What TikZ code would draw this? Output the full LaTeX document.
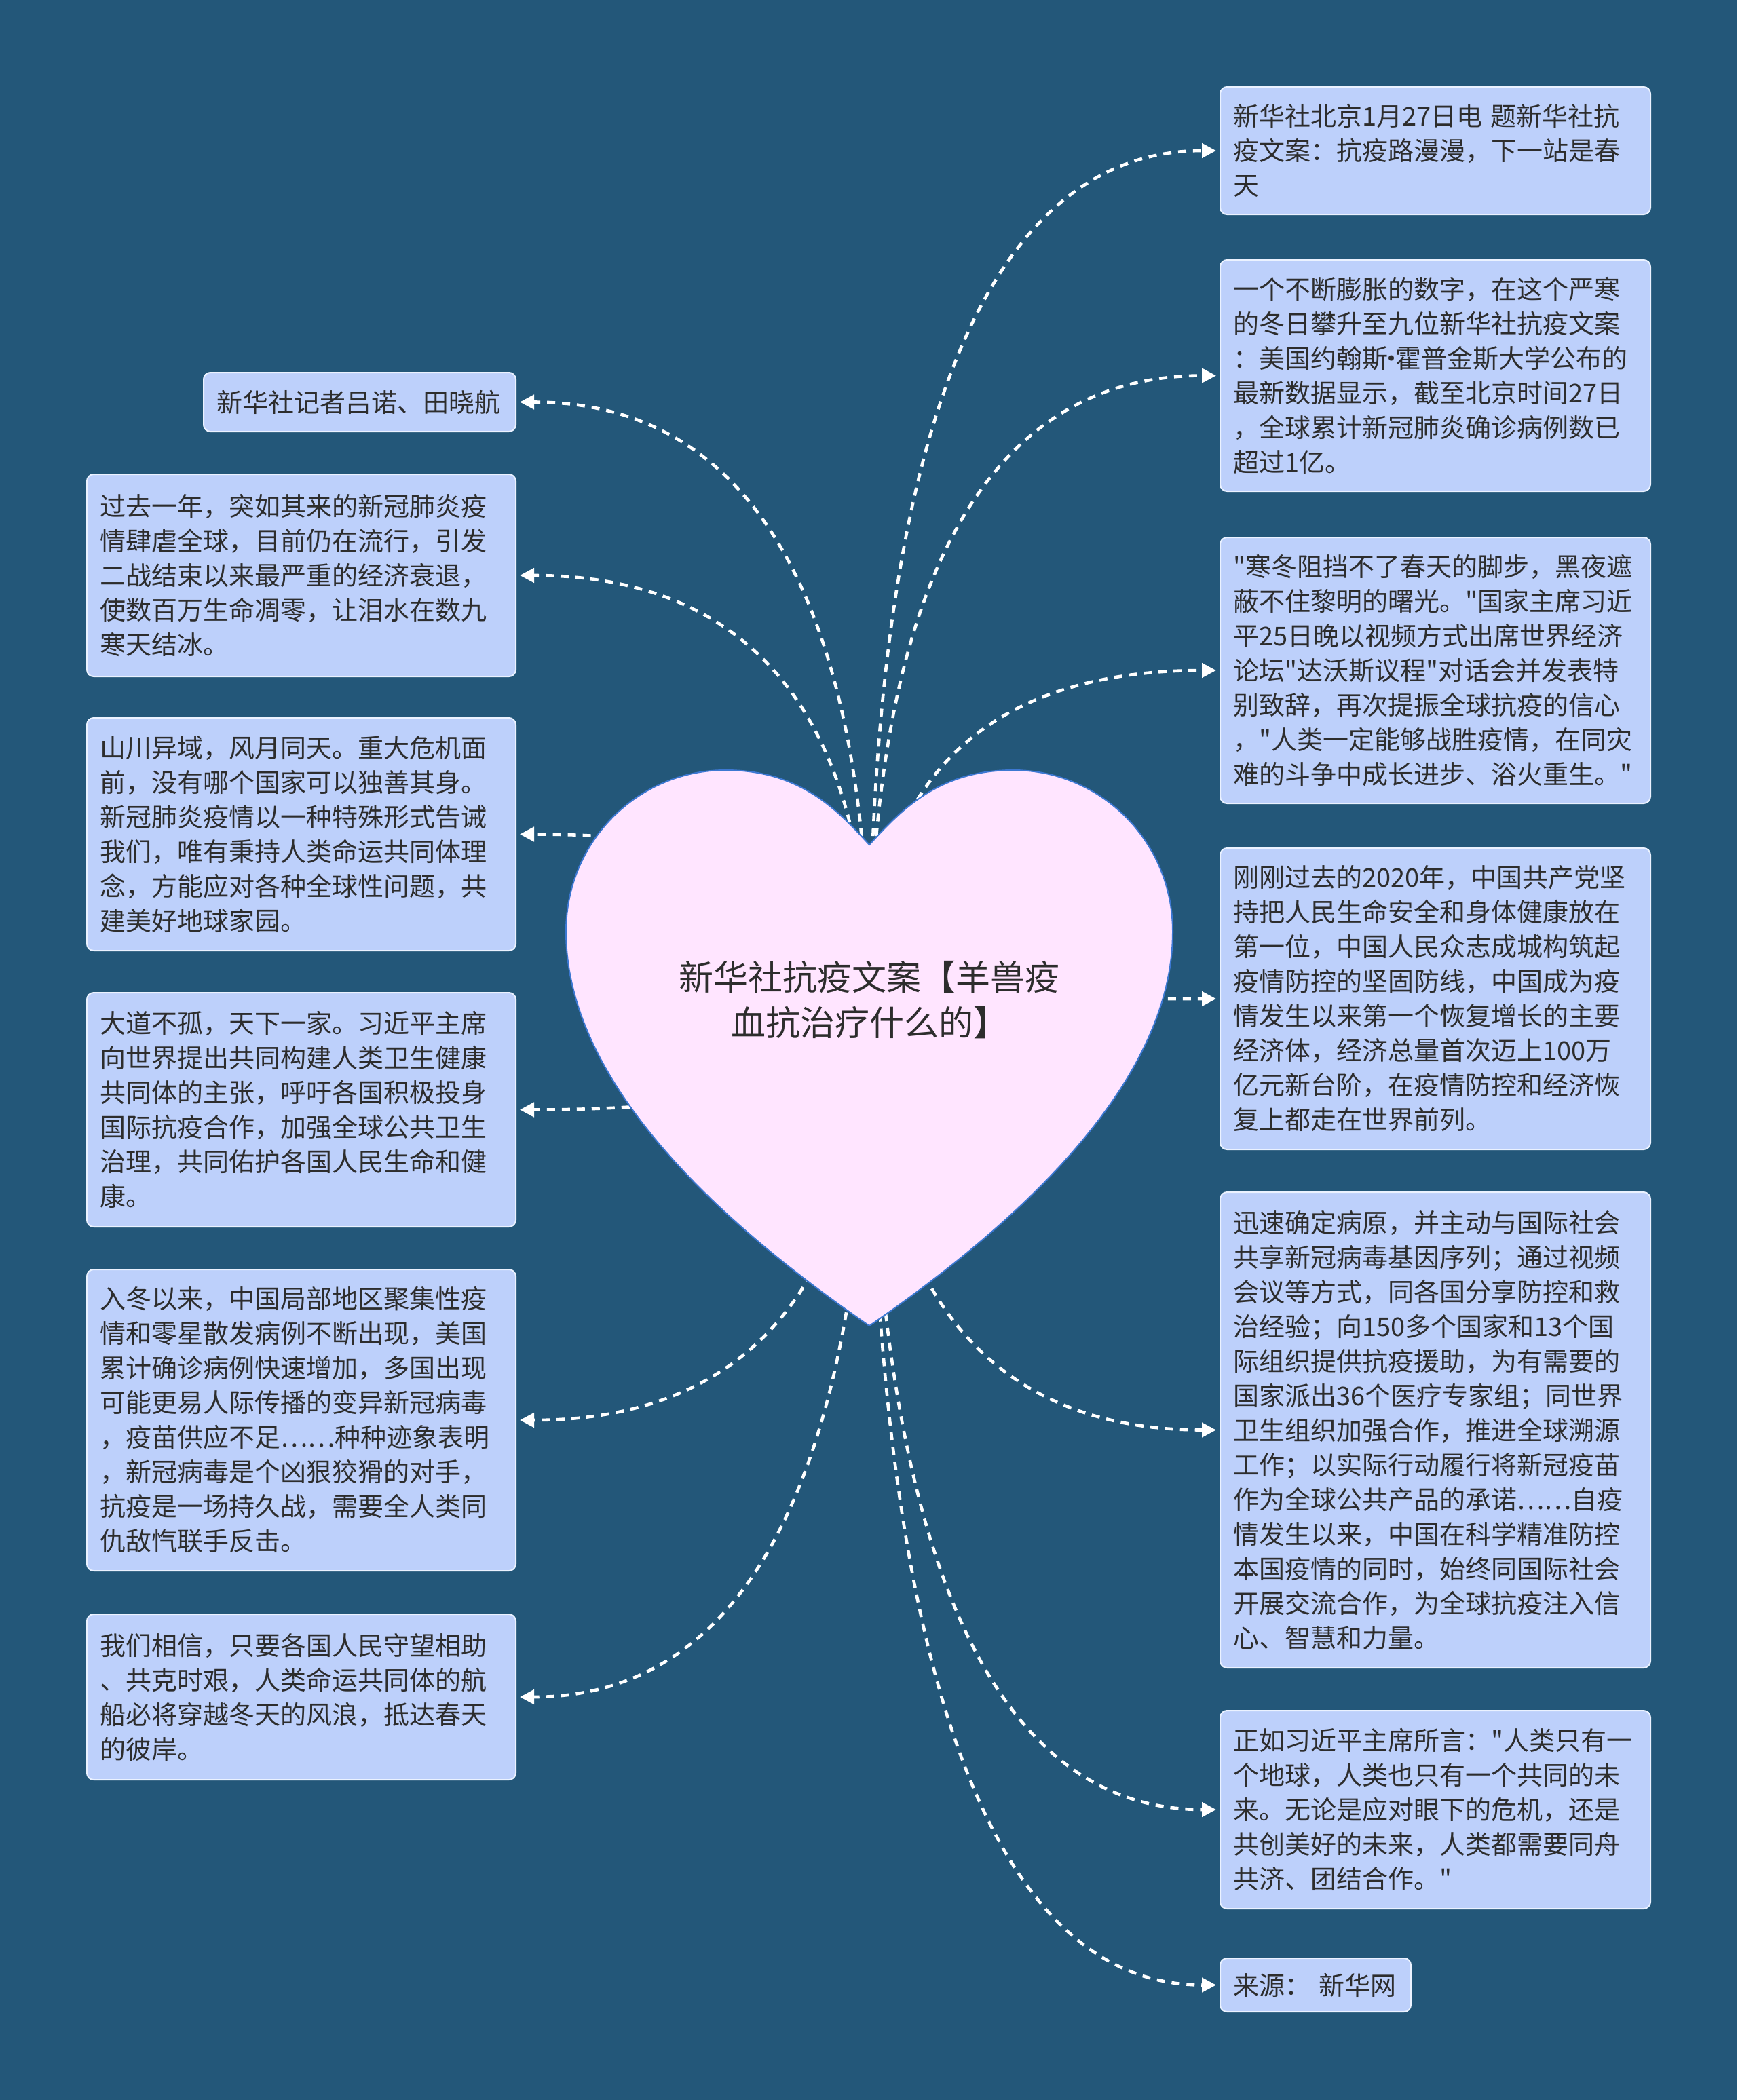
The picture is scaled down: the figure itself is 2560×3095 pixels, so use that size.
\documentclass[tikz,border=0pt]{standalone}
\usepackage{fontspec}
\newfontfamily\cjk{Noto Sans CJK SC}
\usetikzlibrary{arrows.meta,calc}
\pgfdeclarelayer{bg}\pgfdeclarelayer{conn}\pgfdeclarelayer{heartl}
\pgfsetlayers{bg,conn,heartl,main}
\definecolor{bgcol}{RGB}{35,87,121}
\definecolor{boxfill}{RGB}{189,208,251}
\definecolor{boxline}{RGB}{235,242,255}
\definecolor{heartfill}{RGB}{255,229,255}
\definecolor{heartline}{RGB}{60,120,210}
\definecolor{txt}{RGB}{45,45,45}
\newcommand\mdot{\makebox[0.3em][c]{·}}
\tikzset{
  box/.style={draw=boxline, line width=1pt, fill=boxfill, rounded corners=5pt,
    font=\cjk\fontsize{19}{25.5}\selectfont, text=txt, align=left,
    inner xsep=9.5pt, inner ysep=0pt},
  bx/.style n args={3}{box, minimum width=#1, text width=#2, minimum height=#3},
  roottext/.style={font=\cjk\fontsize{25.5}{33.5}\selectfont, text=txt, align=center, inner sep=0pt},
  conn/.style={draw=white, line width=2.3pt, dash pattern=on 6pt off 5pt,
    -{Triangle[length=10.5pt,width=10.5pt]}, shorten >=2.5pt},
  heartshape/.style={fill=heartfill, draw=heartline, line width=1pt}
}
\begin{document}
\begin{tikzpicture}[x=0.5pt,y=-0.5pt]
\useasboundingbox (0,0) rectangle (2560,3095);
\begin{pgfonlayer}{bg}
\fill[bgcol] (0,0) rectangle (2560,3095);
\end{pgfonlayer}

\node[roottext] (root) at (1281,1474) {新华社抗疫文案【羊兽疫\\血抗治疗什么的】};

% right column
\node[bx={317pt}{298pt}{94pt}] (R1) at (2115,222) {新华社北京1月27日电 题新华社抗\\疫文案：抗疫路漫漫，下一站是春\\天};
\node[bx={317pt}{298pt}{170.5pt}] (R2) at (2115,553.5) {一个不断膨胀的数字，在这个严寒\\的冬日攀升至九位新华社抗疫文案\\：美国约翰斯\mdot 霍普金斯大学公布的\\最新数据显示，截至北京时间27日\\，全球累计新冠肺炎确诊病例数已\\超过1亿。};
\node[bx={317pt}{298pt}{196pt}] (R3) at (2115,988) {"寒冬阻挡不了春天的脚步，黑夜遮\\蔽不住黎明的曙光。"国家主席习近\\平25日晚以视频方式出席世界经济\\论坛"达沃斯议程"对话会并发表特\\别致辞，再次提振全球抗疫的信心\\，"人类一定能够战胜疫情，在同灾\\难的斗争中成长进步、浴火重生。"};
\node[bx={317pt}{298pt}{222pt}] (R4) at (2115,1472) {刚刚过去的2020年，中国共产党坚\\持把人民生命安全和身体健康放在\\第一位，中国人民众志成城构筑起\\疫情防控的坚固防线，中国成为疫\\情发生以来第一个恢复增长的主要\\经济体，经济总量首次迈上100万\\亿元新台阶，在疫情防控和经济恢\\复上都走在世界前列。};
\node[bx={317pt}{298pt}{350.5pt}] (R5) at (2115,2107.5) {迅速确定病原，并主动与国际社会\\共享新冠病毒基因序列；通过视频\\会议等方式，同各国分享防控和救\\治经验；向150多个国家和13个国\\际组织提供抗疫援助，为有需要的\\国家派出36个医疗专家组；同世界\\卫生组织加强合作，推进全球溯源\\工作；以实际行动履行将新冠疫苗\\作为全球公共产品的承诺……自疫\\情发生以来，中国在科学精准防控\\本国疫情的同时，始终同国际社会\\开展交流合作，为全球抗疫注入信\\心、智慧和力量。};
\node[bx={317pt}{298pt}{146pt}] (R6) at (2115,2667) {正如习近平主席所言："人类只有一\\个地球，人类也只有一个共同的未\\来。无论是应对眼下的危机，还是\\共创美好的未来，人类都需要同舟\\共济、团结合作。"};
\node[bx={140.5pt}{121.5pt}{39.5pt}] (R7) at (1938.5,2925.5) {来源： 新华网};

% left column
\node[bx={230pt}{211pt}{43.5pt}] (L1) at (530,592.5) {新华社记者吕诺、田晓航};
\node[bx={316pt}{297pt}{149pt}] (L2) at (444,848) {过去一年，突如其来的新冠肺炎疫\\情肆虐全球，目前仍在流行，引发\\二战结束以来最严重的经济衰退，\\使数百万生命凋零，让泪水在数九\\寒天结冰。};
\node[bx={316pt}{297pt}{171.5pt}] (L3) at (444,1229.5) {山川异域，风月同天。重大危机面\\前，没有哪个国家可以独善其身。\\新冠肺炎疫情以一种特殊形式告诫\\我们，唯有秉持人类命运共同体理\\念，方能应对各种全球性问题，共\\建美好地球家园。};
\node[bx={316pt}{297pt}{172.5pt}] (L4) at (444,1635.5) {大道不孤，天下一家。习近平主席\\向世界提出共同构建人类卫生健康\\共同体的主张，呼吁各国积极投身\\国际抗疫合作，加强全球公共卫生\\治理，共同佑护各国人民生命和健\\康。};
\node[bx={316pt}{297pt}{222pt}] (L5) at (444,2093) {入冬以来，中国局部地区聚集性疫\\情和零星散发病例不断出现，美国\\累计确诊病例快速增加，多国出现\\可能更易人际传播的变异新冠病毒\\，疫苗供应不足……种种迹象表明\\，新冠病毒是个凶狠狡猾的对手，\\抗疫是一场持久战，需要全人类同\\仇敌忾联手反击。};
\node[bx={316pt}{297pt}{122pt}] (L6) at (444,2501) {我们相信，只要各国人民守望相助\\、共克时艰，人类命运共同体的航\\船必将穿越冬天的风浪，抵达春天\\的彼岸。};

\begin{pgfonlayer}{conn}
\foreach \n/\a in {R1/west,R2/west,R3/west,R4/west,R5/west,R6/west,R7/west,L1/east,L2/east,L3/east,L4/east,L5/east,L6/east}{
  \coordinate (q) at (root.center |- \n.\a);
  \draw[conn] (root.center) .. controls ($(root.center)!2/3!(q)$) and ($(\n.\a)!2/3!(q)$) .. (\n.\a);
}
\end{pgfonlayer}

\begin{pgfonlayer}{heartl}
\path[heartshape] (1281,1245) .. controls (1235,1195) and (1180,1135) .. (1069,1135)
  .. controls (940,1135) and (834,1240) .. (834,1373)
  .. controls (834,1590) and (1050,1795) .. (1281,1954)
  .. controls (1512,1795) and (1728,1590) .. (1728,1373)
  .. controls (1728,1240) and (1622,1135) .. (1493,1135)
  .. controls (1382,1135) and (1327,1195) .. (1281,1245) -- cycle;
\end{pgfonlayer}
\end{tikzpicture}
\end{document}
